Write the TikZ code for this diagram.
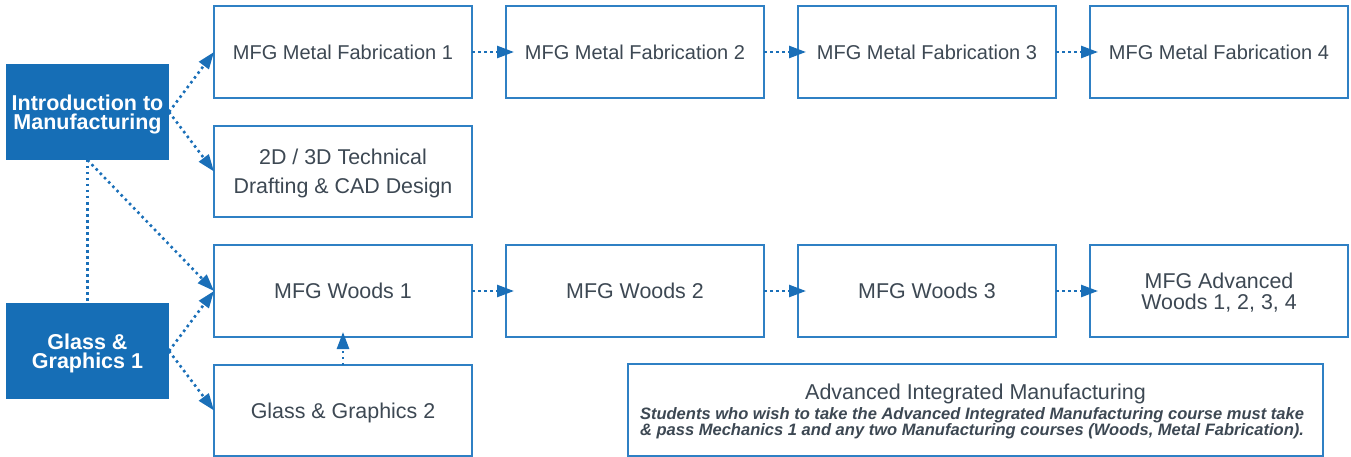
\documentclass[tikz,border=0pt]{standalone}
\usepackage{fontspec}
\setmainfont{Liberation Sans}
\usepackage{graphicx}
\usetikzlibrary{arrows.meta}
\definecolor{blueF}{HTML}{166EB6}
\definecolor{edgeC}{HTML}{2F80C4}
\definecolor{txtC}{HTML}{3D4853}
\definecolor{arrC}{HTML}{1A6FB8}
\begin{document}
\begin{tikzpicture}[x=1pt,y=-1pt,
  box/.style={draw=edgeC, line width=1.4pt, fill=white, inner sep=0pt, outer sep=0pt,
    minimum width=258pt, minimum height=92pt, anchor=north west, text=txtC,
    font=\fontsize{21.4}{29}\selectfont, align=center, text depth=0pt},
  mfbox/.style={box, font=\fontsize{20}{24}\selectfont},
  bluebox/.style={fill=blueF, draw=none, inner sep=0pt, outer sep=0pt,
    minimum width=163pt, minimum height=96pt, anchor=north west, text=white,
    font=\bfseries\fontsize{21.5}{19.5}\selectfont, align=center, text depth=0pt},
  conn/.style={draw=arrC, line width=2.6pt, dash pattern=on 2.5pt off 3.5pt},
  arr/.style={conn, -{Triangle[length=17pt,width=12pt]}},
  harr/.style={arr, shorten >=-8pt},
  notetext/.style={inner sep=0pt, outer sep=0pt, text=txtC, anchor=base west}
]
\useasboundingbox (0,0) rectangle (1351,457);

% blue entry boxes
\node[bluebox] (intro) at (6,64) {Introduction to\\Manufacturing};
\node[bluebox] (gg1) at (6,303) {Glass \&\\Graphics 1};

% metal fabrication row
\node[mfbox] (mf1) at (214,6) {MFG Metal Fabrication 1};
\node[mfbox] (mf2) at (506,6) {MFG Metal Fabrication 2};
\node[mfbox] (mf3) at (798,6) {MFG Metal Fabrication 3};
\node[mfbox] (mf4) at (1090,6) {MFG Metal Fabrication 4};

% CAD
\node[box, minimum height=91pt] (cad) at (214,126) {2D / 3D Technical\\Drafting \& CAD Design};

% woods row
\node[box] (w1) at (214,245) {MFG Woods 1};
\node[box] (w2) at (506,245) {MFG Woods 2};
\node[box] (w3) at (798,245) {MFG Woods 3};
\node[box, font=\fontsize{21.4}{21}\selectfont] (w4) at (1090,245) {MFG Advanced\\Woods 1, 2, 3, 4};

% glass & graphics 2
\node[box, minimum height=91pt] (gg2) at (214,365) {Glass \& Graphics 2};

% advanced integrated manufacturing
\node[box, minimum width=695pt, minimum height=92pt] (adv) at (628,364) {};
\node[inner sep=0pt, outer sep=0pt, text=txtC, anchor=base, font=\fontsize{21.5}{22}\selectfont] (advT) at (975.5,399) {Advanced Integrated Manufacturing};
\node[notetext] (advA) at (640,419) {\resizebox{664pt}{\height}{\bfseries\itshape\fontsize{16.5}{16}\selectfont Students who wish to take the Advanced Integrated Manufacturing course must take}};
\node[notetext] (advB) at (640,435) {\resizebox{664pt}{\height}{\bfseries\itshape\fontsize{16.5}{16}\selectfont \& pass Mechanics 1 and any two Manufacturing courses (Woods, Metal Fabrication).}};

% connectors
\draw[arr] (intro.east) -- (mf1.west);
\draw[arr] (intro.east) -- (cad.west);
\draw[conn] (intro.south) -- (gg1.north);
\draw[arr] (intro.south) -- (w1.west);
\draw[arr] (gg1.east) -- (w1.west);
\draw[arr] (gg1.east) -- (gg2.west);
\draw[arr, shorten >=-5pt] (gg2.north) -- (w1.south);

\draw[harr] (mf1.east) -- (mf2.west);
\draw[harr] (mf2.east) -- (mf3.west);
\draw[harr] (mf3.east) -- (mf4.west);
\draw[harr] (w1.east) -- (w2.west);
\draw[harr] (w2.east) -- (w3.west);
\draw[harr] (w3.east) -- (w4.west);
\end{tikzpicture}
\end{document}
